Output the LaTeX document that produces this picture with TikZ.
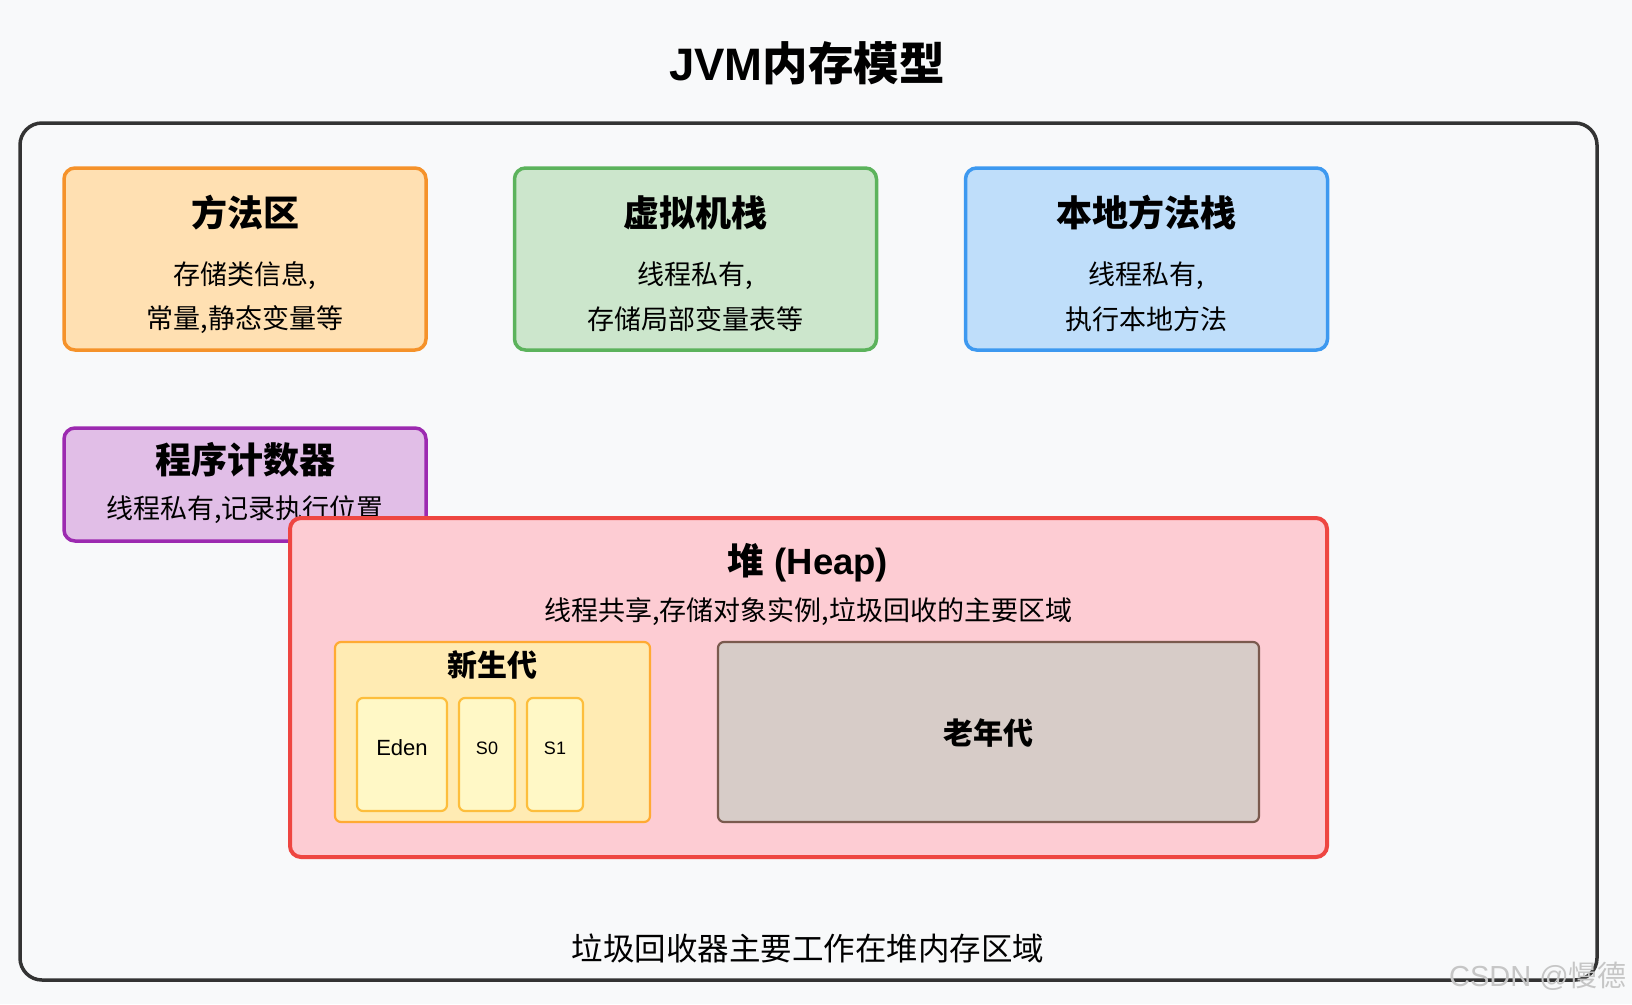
\documentclass[tikz,border=0pt]{standalone}
\usepackage{fontspec}
\setmainfont{Liberation Sans}
\newfontfamily\cjk{Noto Sans CJK SC}
\usetikzlibrary{positioning}
\definecolor{PageBg}{HTML}{F8F9FA}
\definecolor{FrameGray}{HTML}{333333}
\definecolor{MethodFill}{HTML}{FFE0B2}
\definecolor{MethodLine}{HTML}{F5922A}
\definecolor{StackFill}{HTML}{CCE6CC}
\definecolor{StackLine}{HTML}{5CB35C}
\definecolor{NativeFill}{HTML}{BFDEFA}
\definecolor{NativeLine}{HTML}{3D99F0}
\definecolor{PcFill}{HTML}{E1BEE7}
\definecolor{PcLine}{HTML}{9C2AB0}
\definecolor{HeapFill}{HTML}{FDCCD3}
\definecolor{HeapLine}{HTML}{EE4641}
\definecolor{YoungFill}{HTML}{FFEBB3}
\definecolor{YoungLine}{HTML}{FFAA33}
\definecolor{SpaceFill}{HTML}{FFF8C6}
\definecolor{SpaceLine}{HTML}{FDBE3C}
\definecolor{OldFill}{HTML}{D7CCC8}
\definecolor{OldLine}{HTML}{7A5A4E}
\newcommand\titlefont{\cjk\bfseries\fontsize{36}{42}\selectfont}
\newcommand\bodyfont{\cjk\fontsize{27}{32}\selectfont}

\begin{document}
\begin{tikzpicture}[x=1pt, y=-1pt,
	area/.style={draw, rectangle, rounded corners=11pt, line width=3.5pt, inner sep=0pt},
	part/.style={draw, rectangle, rounded corners=6pt, line width=2.2pt, inner sep=0pt},
	txt/.style={inner sep=0pt, anchor=center}]
	\useasboundingbox[fill=PageBg] (0,0) rectangle (1632,1004);
	
	% 外框与标题
	\draw[FrameGray, line width=3.5pt, rounded corners=22pt] (20,123) rectangle (1597,980);
	\node[txt] (title) at (807,63) {\bfseries\fontsize{45.5}{52}\selectfont JVM{\cjk 内存模型}};
	
	% 方法区 / 虚拟机栈 / 本地方法栈
	\node[area, draw=MethodLine, fill=MethodFill, minimum width=362pt, minimum height=182pt] (method) at (245,259) {};
	\node[txt] (methodT) at (245,213) {\titlefont 方法区};
	\node[txt] (methodA) at (245,275.5) {\bodyfont 存储类信息,};
	\node[txt] (methodB) at (245,319.5) {\bodyfont 常量,静态变量等};
	
	\node[area, draw=StackLine, fill=StackFill, minimum width=362pt, minimum height=182pt] (stack) at (695.5,259) {};
	\node[txt] (stackT) at (695.5,213) {\titlefont 虚拟机栈};
	\node[txt] (stackA) at (695.5,275.5) {\bodyfont 线程私有,};
	\node[txt] (stackB) at (695.5,319.5) {\bodyfont 存储局部变量表等};
	
	\node[area, draw=NativeLine, fill=NativeFill, minimum width=362pt, minimum height=182pt] (native) at (1146.5,259) {};
	\node[txt] (nativeT) at (1146.5,213) {\titlefont 本地方法栈};
	\node[txt] (nativeA) at (1146.5,275.5) {\bodyfont 线程私有,};
	\node[txt] (nativeB) at (1146.5,319.5) {\bodyfont 执行本地方法};
	
	% 程序计数器
	\node[area, draw=PcLine, fill=PcFill, minimum width=362pt, minimum height=113pt] (pc) at (245,484.5) {};
	\node[txt] (pcT) at (245,460) {\titlefont 程序计数器};
	\node[txt] (pcA) at (245,510) {\bodyfont 线程私有,记录执行位置};
	
	% 堆
	\node[area, draw=HeapLine, fill=HeapFill, line width=4pt, minimum width=1037pt, minimum height=339pt] (heap) at (808.5,687.5) {};
	\node[txt] (heapT) at (808,563) {\bfseries\fontsize{36.5}{42}\selectfont{\cjk 堆} (Heap)};
	\node[txt] (heapA) at (808,612) {\bodyfont 线程共享,存储对象实例,垃圾回收的主要区域};
	
	% 新生代
	\node[part, draw=YoungLine, fill=YoungFill, minimum width=315pt, minimum height=180pt] (young) at (492.5,732) {};
	\node[txt] (youngT) at (492.5,665) {\cjk\bfseries\fontsize{30}{36}\selectfont 新生代};
	\node[part, draw=SpaceLine, fill=SpaceFill, minimum width=90pt, minimum height=113pt] (eden) at (402,754.5) {};
	\node[txt] (edenT) at (402,748) {\fontsize{22}{26}\selectfont Eden};
	\node[part, draw=SpaceLine, fill=SpaceFill, minimum width=56pt, minimum height=113pt] (s0) at (487,754.5) {};
	\node[txt] (s0T) at (487,748) {\fontsize{18}{22}\selectfont S0};
	\node[part, draw=SpaceLine, fill=SpaceFill, minimum width=56pt, minimum height=113pt] (s1) at (555,754.5) {};
	\node[txt] (s1T) at (555,748) {\fontsize{18}{22}\selectfont S1};
	
	% 老年代
	\node[part, draw=OldLine, fill=OldFill, minimum width=541pt, minimum height=180pt] (old) at (988.5,732) {};
	\node[txt] (oldT) at (988.5,733) {\cjk\bfseries\fontsize{30}{36}\selectfont 老年代};
	
	% 底部说明
	\node[txt] (note) at (808,948) {\cjk\fontsize{31.5}{36}\selectfont 垃圾回收器主要工作在堆内存区域};
	\node[txt, text=gray!45] (mark) at (1538,976) {\fontsize{29}{34}\selectfont CSDN @{\cjk 慢德}};
\end{tikzpicture}
\end{document}
